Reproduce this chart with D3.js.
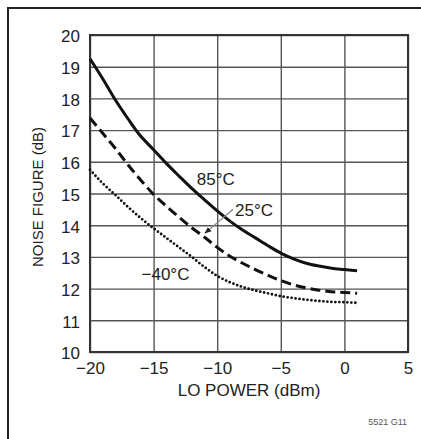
<!DOCTYPE html>
<html>
<head>
<meta charset="utf-8">
<script src="https://cdn.jsdelivr.net/npm/d3@7"></script>
<style>
  body { margin: 0; background: #fff; }
  svg text { font-family: "Liberation Sans", Arial, sans-serif; fill: #222; }
</style>
</head>
<body>
<div id="vis"></div>
<script>
// Data -------------------------------------------------------------------
var xTicks = [-20, -15, -10, -5, 0, 5];
var yTicks = [10, 11, 12, 13, 14, 15, 16, 17, 18, 19, 20];

var hot_x = [-20, -19, -18, -17, -16.2, -15, -14, -13, -12, -11, -10, -9, -8, -7, -6, -5, -4, -3, -2, -1, 0, 1];
var hot_nf = [19.25, 18.62, 17.95, 17.35, 16.9, 16.38, 15.95, 15.55, 15.16, 14.8, 14.45, 14.13, 13.85, 13.6, 13.35, 13.12, 12.94, 12.8, 12.71, 12.64, 12.6, 12.56];

var room_x = [-20, -19, -18, -17, -16, -15, -14, -13, -12, -11, -10, -9, -8, -7, -6, -5, -4, -3, -2, -1, 0, 1];
var room_nf = [17.38, 16.9, 16.42, 15.9, 15.42, 14.97, 14.6, 14.25, 13.92, 13.62, 13.3, 13.02, 12.8, 12.6, 12.42, 12.25, 12.12, 12.02, 11.95, 11.9, 11.88, 11.85];

var cold_x = [-20, -19, -18, -17, -16, -15, -14, -13, -12, -11, -10, -9, -8, -7, -6, -5, -4, -3, -2, -1, 0, 1];
var cold_nf = [15.75, 15.32, 14.95, 14.57, 14.22, 13.9, 13.6, 13.3, 13.0, 12.68, 12.4, 12.2, 12.05, 11.94, 11.85, 11.76, 11.7, 11.65, 11.61, 11.58, 11.57, 11.55];

var curveLabels = ["85°C", "25°C", "−40°C"];

// Geometry -----------------------------------------------------------------
var W = 421, H = 439;
var margin = { top: 35, right: 13, bottom: 87, left: 90 },
    width = W - margin.left - margin.right,
    height = H - margin.top - margin.bottom;

var x = d3.scaleLinear().domain([-20, 5]).range([0, width]);
var y = d3.scaleLinear().domain([10, 20]).range([height, 0]);

var svg = d3.select("#vis").append("svg")
    .attr("width", W)
    .attr("height", H);

// outer frame (only left and top edges show)
svg.append("path")
    .attr("d", "M8," + H + "V8H" + W)
    .attr("fill", "none")
    .attr("stroke", "#222")
    .attr("stroke-width", 2);

var g = svg.append("g")
    .attr("transform", "translate(" + margin.left + "," + margin.top + ")");

// grid + axes
var xAxis = g.append("g")
    .attr("transform", "translate(0," + height + ")")
    .call(d3.axisBottom(x).tickValues(xTicks).tickSize(-height).tickPadding(10));
var yAxis = g.append("g")
    .call(d3.axisLeft(y).tickValues(yTicks).tickSize(-width).tickPadding(10));

[xAxis, yAxis].forEach(function(a) {
    a.select(".domain").remove();
    a.selectAll(".tick line")
        .attr("stroke", "#555")
        .attr("stroke-width", 1.4);
    a.selectAll(".tick text")
        .style("font-size", "17px")
        .attr("fill", "#222");
});
yAxis.selectAll(".tick text").attr("dy", "0.4em");

g.append("rect")
    .attr("width", width)
    .attr("height", height)
    .attr("fill", "none")
    .attr("stroke", "#333")
    .attr("stroke-width", 2);

// curves
function series(xs, ys) {
    return xs.map(function(v, i) { return { x: v, y: ys[i] }; });
}
var line = d3.line()
    .x(function(d) { return x(d.x); })
    .y(function(d) { return y(d.y); })
    .curve(d3.curveMonotoneX);

g.append("path")
    .datum(series(hot_x, hot_nf))
    .attr("d", line)
    .attr("fill", "none")
    .attr("stroke", "#111")
    .attr("stroke-width", 3);

g.append("path")
    .datum(series(room_x, room_nf))
    .attr("d", line)
    .attr("fill", "none")
    .attr("stroke", "#111")
    .attr("stroke-width", 3)
    .attr("stroke-dasharray", "10,5");

g.append("path")
    .datum(series(cold_x, cold_nf))
    .attr("d", line)
    .attr("fill", "none")
    .attr("stroke", "#111")
    .attr("stroke-width", 2.8)
    .attr("stroke-linecap", "round")
    .attr("stroke-dasharray", "0,4");

// curve labels
g.append("text").attr("x", x(-11.6)).attr("y", y(15.27))
    .style("font-size", "17px").text(curveLabels[0]);
g.append("text").attr("x", x(-8.6)).attr("y", y(14.29))
    .style("font-size", "17px").text(curveLabels[1]);
g.append("text").attr("x", x(-15.95)).attr("y", y(12.27))
    .style("font-size", "17px").text(curveLabels[2]);

// arrow from the 25°C label to its curve
svg.append("defs").append("marker")
    .attr("id", "tip")
    .attr("viewBox", "0 0 10 10")
    .attr("refX", 9).attr("refY", 5)
    .attr("markerWidth", 7).attr("markerHeight", 7)
    .attr("markerUnits", "userSpaceOnUse")
    .attr("orient", "auto")
    .append("path")
    .attr("d", "M0,1L10,5L0,9Z")
    .attr("fill", "#222");

g.append("line")
    .attr("x1", x(-8.75)).attr("y1", y(14.5))
    .attr("x2", x(-10.96)).attr("y2", y(13.75))
    .attr("stroke", "#888")
    .attr("stroke-width", 1.3)
    .attr("marker-end", "url(#tip)");

// axis titles
g.append("text")
    .attr("x", width / 2)
    .attr("y", height + 44)
    .attr("text-anchor", "middle")
    .style("font-size", "17px")
    .text("LO POWER (dBm)");

g.append("text")
    .attr("transform", "translate(" + (-margin.left + 43) + "," + 162 + ") rotate(-90)")
    .attr("text-anchor", "middle")
    .style("font-size", "15px")
    .text("NOISE FIGURE (dB)");

svg.append("text")
    .attr("x", 407)
    .attr("y", 425)
    .attr("text-anchor", "end")
    .style("font-size", "9px")
    .style("fill", "#555")
    .text("5521 G11");
</script>
</body>
</html>
